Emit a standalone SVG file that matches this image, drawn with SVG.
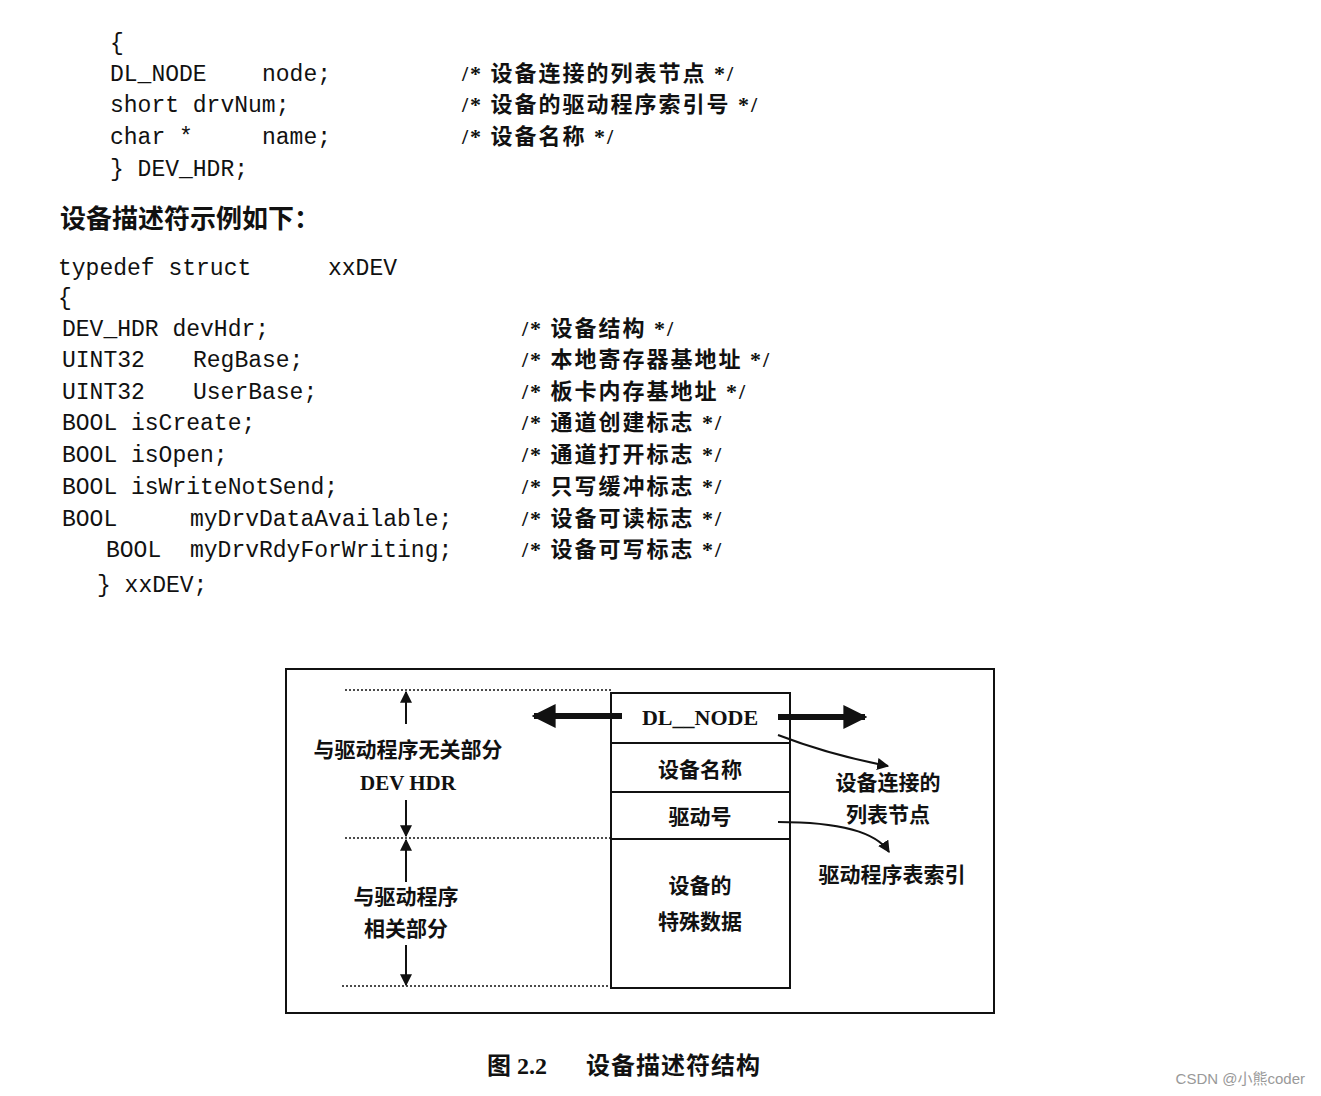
<svg xmlns="http://www.w3.org/2000/svg" width="1321" height="1096" viewBox="0 0 1321 1096">
<defs>
<style>
.m{font-family:"Liberation Mono","Noto Sans CJK SC",monospace;font-size:23px;fill:#111}
.c{font-family:"Liberation Serif","Noto Sans CJK SC",serif;font-size:22px;fill:#111;font-weight:bold;letter-spacing:2px}
.d{font-family:"Liberation Serif","Noto Sans CJK SC",serif;font-size:21px;fill:#111;font-weight:bold;text-anchor:middle}
.ln{stroke:#111;stroke-width:2;fill:none}
.dot{stroke:#111;stroke-width:1.5;stroke-dasharray:2 2;fill:none}
</style>
<marker id="ah" viewBox="0 0 10 10" refX="9" refY="5" markerWidth="6" markerHeight="6" orient="auto"><path d="M0,0L10,5L0,10z" fill="#111"/></marker>
<marker id="bh" viewBox="0 0 10 10" refX="9" refY="5" markerWidth="4" markerHeight="4.5" orient="auto"><path d="M0,0L10,5L0,10z" fill="#111"/></marker>
</defs>
<rect width="1321" height="1096" fill="#fff"/>
<g id="code">
<text class="m" x="110" y="50">{</text>
<text class="m" x="110" y="81">DL_NODE</text><text class="m" x="262" y="81">node;</text><text class="c" x="462" y="81">/* 设备连接的列表节点 */</text>
<text class="m" x="110" y="112">short drvNum;</text><text class="c" x="462" y="112">/* 设备的驱动程序索引号 */</text>
<text class="m" x="110" y="144">char *</text><text class="m" x="262" y="144">name;</text><text class="c" x="462" y="144">/* 设备名称 */</text>
<text class="m" x="110" y="176">} DEV_HDR;</text>
<text class="c" x="60" y="228" style="font-size:26px;letter-spacing:0">设备描述符示例如下：</text>
<text class="m" x="58" y="275">typedef struct</text><text class="m" x="328" y="275">xxDEV</text>
<text class="m" x="58" y="305">{</text>
<text class="m" x="62" y="336">DEV_HDR devHdr;</text><text class="c" x="522" y="336">/* 设备结构 */</text>
<text class="m" x="62" y="367">UINT32</text><text class="m" x="193" y="367">RegBase;</text><text class="c" x="522" y="367">/* 本地寄存器基地址 */</text>
<text class="m" x="62" y="399">UINT32</text><text class="m" x="193" y="399">UserBase;</text><text class="c" x="522" y="399">/* 板卡内存基地址 */</text>
<text class="m" x="62" y="430">BOOL isCreate;</text><text class="c" x="522" y="430">/* 通道创建标志 */</text>
<text class="m" x="62" y="462">BOOL isOpen;</text><text class="c" x="522" y="462">/* 通道打开标志 */</text>
<text class="m" x="62" y="494">BOOL isWriteNotSend;</text><text class="c" x="522" y="494">/* 只写缓冲标志 */</text>
<text class="m" x="62" y="526">BOOL</text><text class="m" x="190" y="526">myDrvDataAvailable;</text><text class="c" x="522" y="526">/* 设备可读标志 */</text>
<text class="m" x="106" y="557">BOOL</text><text class="m" x="190" y="557">myDrvRdyForWriting;</text><text class="c" x="522" y="557">/* 设备可写标志 */</text>
<text class="m" x="97" y="592">} xxDEV;</text>
</g>
<g id="frame"><rect x="286" y="669" width="708" height="344" class="ln"/></g>
<g id="struct">
<rect x="611" y="693" width="179" height="295" class="ln"/>
<line x1="611" y1="743" x2="790" y2="743" class="ln"/>
<line x1="611" y1="792" x2="790" y2="792" class="ln"/>
<line x1="611" y1="839" x2="790" y2="839" class="ln"/>
<text class="d" x="700" y="725" style="font-size:22px">DL__NODE</text>
<text class="d" x="700" y="777">设备名称</text>
<text class="d" x="700" y="824">驱动号</text>
<text class="d" x="700" y="893">设备的</text>
<text class="d" x="700" y="929">特殊数据</text>
</g>
<g id="labels">
<text class="d" x="408" y="757">与驱动程序无关部分</text>
<text class="d" x="408" y="790">DEV HDR</text>
<text class="d" x="406" y="904">与驱动程序</text>
<text class="d" x="406" y="936">相关部分</text>
<text class="d" x="888" y="790">设备连接的</text>
<text class="d" x="888" y="822">列表节点</text>
<text class="d" x="892" y="882">驱动程序表索引</text>
</g>
<g id="connectors">
<line x1="345" y1="690" x2="611" y2="690" class="dot"/>
<line x1="345" y1="838" x2="611" y2="838" class="dot"/>
<line x1="342" y1="986" x2="611" y2="986" class="dot"/>
<line x1="406" y1="724" x2="406" y2="692" class="ln" marker-end="url(#ah)"/>
<line x1="406" y1="800" x2="406" y2="836" class="ln" marker-end="url(#ah)"/>
<line x1="406" y1="882" x2="406" y2="840" class="ln" marker-end="url(#ah)"/>
<line x1="406" y1="945" x2="406" y2="985" class="ln" marker-end="url(#ah)"/>
<line x1="622" y1="716" x2="534" y2="716" stroke="#111" stroke-width="6" marker-end="url(#bh)"/>
<line x1="778" y1="717" x2="865" y2="717" stroke="#111" stroke-width="6" marker-end="url(#bh)"/>
<path d="M778,735 Q830,755 888,766" class="ln" marker-end="url(#ah)"/>
<path d="M778,822 Q870,822 889,852" class="ln" marker-end="url(#ah)"/>
</g>
<text class="c" x="487" y="1074" style="font-size:24px;letter-spacing:0">图 2.2</text>
<text class="c" x="586" y="1074" style="font-size:24px;letter-spacing:1px">设备描述符结构</text>
<text x="1305" y="1084" text-anchor="end" style="font-family:'Liberation Sans','Noto Sans CJK SC',sans-serif;font-size:15px;fill:#999">CSDN @小熊coder</text>
</svg>
